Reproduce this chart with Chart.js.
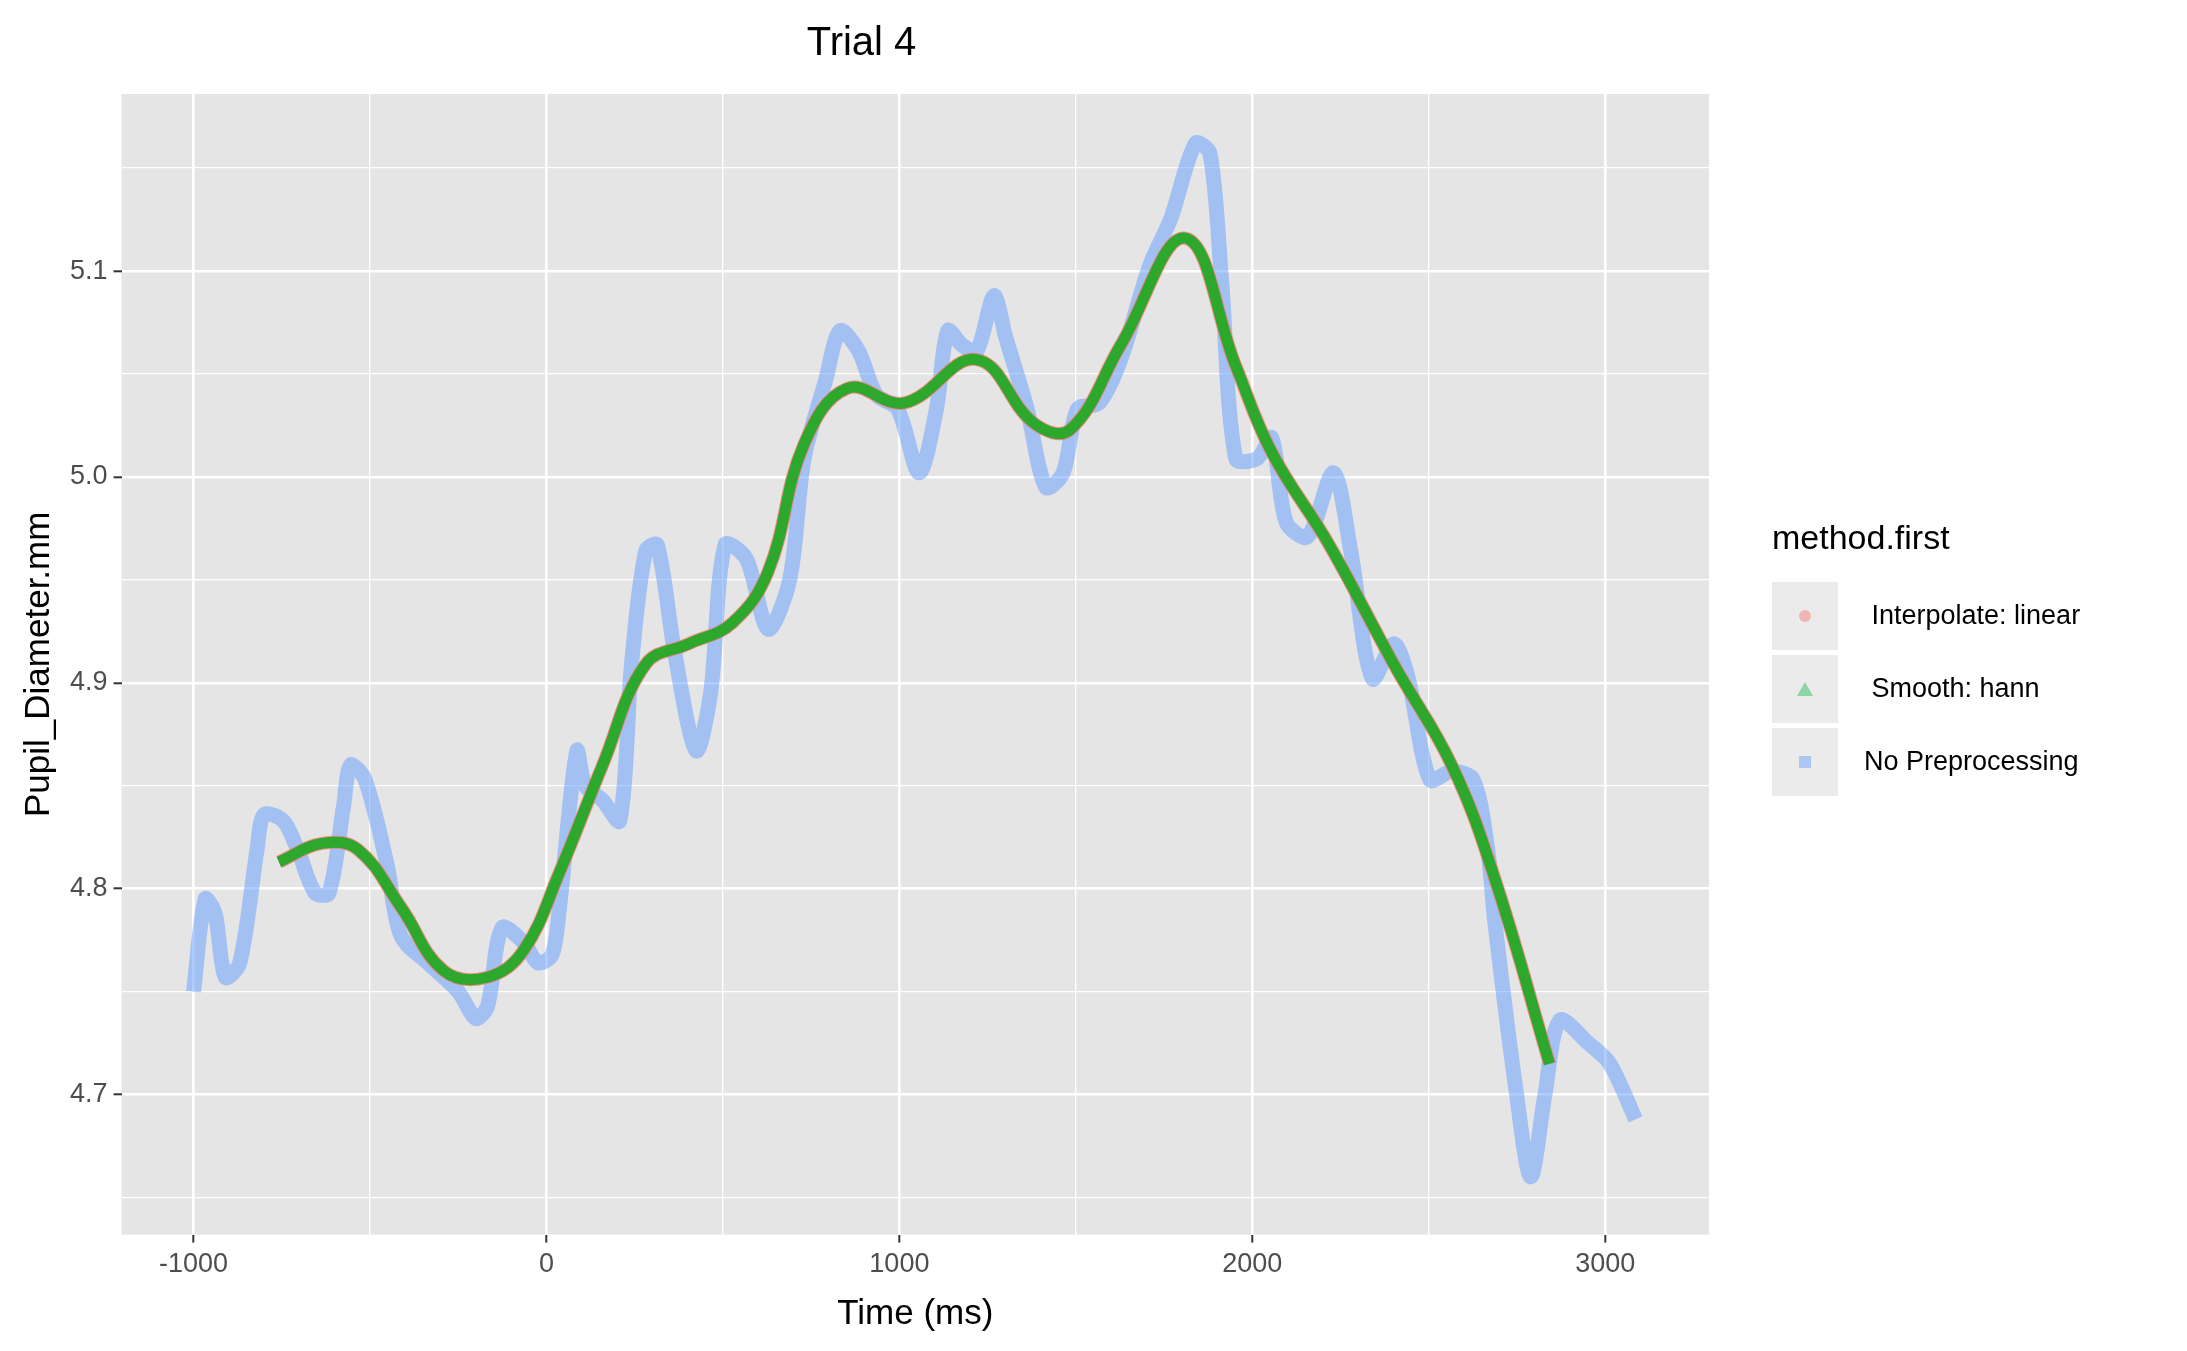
<!DOCTYPE html>
<html>
<head>
<meta charset="utf-8">
<script src="https://cdn.jsdelivr.net/npm/chart.js"></script>
<style>
  body { margin: 0; background: #fff; font-family: "Liberation Sans", Arial, sans-serif; }
  #wrap { position: relative; width: 2187px; height: 1351px; }
  #legend { position: absolute; left: 1772px; top: 518px; color: #000; }
  #legend .title { font-size: 34px; margin-bottom: 22px; }
  #legend .row { display: flex; align-items: center; height: 73px; }
  #legend .key { width: 66px; height: 68px; background: #EBEBEB; display: flex; align-items: center; justify-content: center; margin-right: 26px; }
  #legend .lab { font-size: 27px; }
</style>
</head>
<body>
<div id="wrap">
  <canvas id="c" width="2187" height="1351"></canvas>
  <div id="legend">
    <div class="title">method.first</div>
    <div class="row"><div class="key"><svg width="16" height="16"><circle cx="8" cy="8" r="6" fill="rgba(248,118,109,0.45)"/></svg></div><div class="lab">&nbsp;Interpolate: linear</div></div>
    <div class="row"><div class="key"><svg width="20" height="18"><polygon points="10,2 18,16 2,16" fill="rgba(0,186,56,0.4)"/></svg></div><div class="lab">&nbsp;Smooth: hann</div></div>
    <div class="row"><div class="key"><svg width="16" height="16"><rect x="2" y="2" width="12" height="12" fill="rgba(97,156,255,0.45)"/></svg></div><div class="lab">No Preprocessing</div></div>
  </div>
</div>
<script>
// raw pupil trace (No Preprocessing)
const rawTime = [-1000, -967, -939, -910, -869, -820, -800, -746, -705, -656, -616, -575, -555, -514, -452, -412, -330, -250, -200, -167, -126, -65, -24, 16, 37, 86, 110, 159, 208, 241, 281, 314, 363, 424, 465, 506, 567, 628, 689, 730, 791, 832, 885, 934, 995, 1056, 1105, 1137, 1178, 1219, 1268, 1301, 1362, 1415, 1464, 1505, 1566, 1627, 1708, 1770, 1839, 1880, 1913, 1953, 2014, 2055, 2096, 2157, 2230, 2279, 2340, 2401, 2442, 2503, 2565, 2626, 2667, 2687, 2748, 2789, 2830, 2871, 2952, 3013, 3086];
const rawValue = [4.750, 4.795, 4.788, 4.757, 4.764, 4.819, 4.836, 4.833, 4.819, 4.798, 4.798, 4.840, 4.860, 4.853, 4.812, 4.777, 4.763, 4.750, 4.737, 4.743, 4.781, 4.774, 4.764, 4.768, 4.791, 4.867, 4.850, 4.843, 4.833, 4.909, 4.964, 4.967, 4.915, 4.867, 4.895, 4.967, 4.960, 4.926, 4.950, 5.009, 5.047, 5.071, 5.061, 5.040, 5.033, 5.002, 5.033, 5.071, 5.064, 5.061, 5.088, 5.068, 5.033, 4.995, 5.002, 5.033, 5.036, 5.057, 5.102, 5.126, 5.162, 5.157, 5.095, 5.009, 5.009, 5.019, 4.978, 4.971, 5.002, 4.964, 4.902, 4.919, 4.902, 4.853, 4.857, 4.853, 4.819, 4.784, 4.701, 4.660, 4.701, 4.736, 4.725, 4.715, 4.688];
// smoothed trace (Smooth: hann)
const smoothTime = [-758, -636, -534, -412, -290, -167, -65, 37, 159, 281, 404, 526, 628, 730, 852, 1015, 1219, 1382, 1484, 1627, 1810, 1953, 2055, 2218, 2401, 2565, 2687, 2842];
const smoothValue = [4.813, 4.822, 4.819, 4.791, 4.760, 4.757, 4.770, 4.808, 4.860, 4.909, 4.919, 4.929, 4.954, 5.016, 5.043, 5.036, 5.057, 5.026, 5.023, 5.064, 5.116, 5.054, 5.012, 4.967, 4.909, 4.860, 4.805, 4.715];
// interpolated trace (Interpolate: linear), lies under the smoothed one
const interpTime = [-758, -636, -534, -412, -290, -167, -65, 37, 159, 281, 404, 526, 628, 730, 852, 1015, 1219, 1382, 1484, 1627, 1810, 1953, 2055, 2218, 2401, 2565, 2687, 2842];
const interpValue = [4.813, 4.822, 4.819, 4.791, 4.760, 4.757, 4.770, 4.808, 4.860, 4.909, 4.919, 4.929, 4.954, 5.016, 5.043, 5.036, 5.057, 5.026, 5.023, 5.064, 5.116, 5.054, 5.012, 4.967, 4.909, 4.860, 4.805, 4.715];

const xTicks = [-1000, -500, 0, 500, 1000, 1500, 2000, 2500, 3000];
const yTicks = [4.65, 4.7, 4.75, 4.8, 4.85, 4.9, 4.95, 5.0, 5.05, 5.1, 5.15];

const pts = (xs, ys) => xs.map((x, i) => ({ x, y: ys[i] }));
const isMajorX = v => Math.abs(v % 1000) < 1e-6;
const isMajorY = v => Math.abs(Math.round(v * 10) - v * 10) < 1e-6;

const panelBg = {
  id: 'panelBg',
  beforeDraw(chart) {
    const { ctx, chartArea: a } = chart;
    ctx.save();
    ctx.fillStyle = '#E5E5E5';
    ctx.fillRect(a.left, a.top, a.right - a.left, a.bottom - a.top);
    ctx.restore();
  }
};

new Chart(document.getElementById('c'), {
  type: 'line',
  data: {
    datasets: [
      { label: 'No Preprocessing', data: pts(rawTime, rawValue), borderColor: 'rgba(97,156,255,0.5)', borderWidth: 15, pointRadius: 0, tension: 0.3, order: 3 },
      { label: 'Interpolate: linear', data: pts(interpTime, interpValue), borderColor: 'rgba(248,118,109,0.8)', borderWidth: 13, pointRadius: 0, tension: 0.4, order: 2 },
      { label: 'Smooth: hann', data: pts(smoothTime, smoothValue), borderColor: 'rgba(34,170,40,0.95)', borderWidth: 11, pointRadius: 0, tension: 0.4, order: 1 }
    ]
  },
  options: {
    responsive: false,
    animation: false,
    layout: { padding: { right: 478, top: 0, left: 14, bottom: 12 } },
    plugins: {
      legend: { display: false },
      tooltip: { enabled: false },
      title: { display: true, text: 'Trial 4', color: '#000', font: { size: 40, weight: 'normal', family: 'Liberation Sans' }, padding: { top: 20, bottom: 26 } }
    },
    scales: {
      x: {
        type: 'linear', min: -1204, max: 3294,
        afterBuildTicks: s => { s.ticks = xTicks.map(v => ({ value: v })); },
        ticks: { color: '#4D4D4D', font: { size: 27, family: 'Liberation Sans' }, maxRotation: 0, padding: 6, callback: v => isMajorX(v) ? v : '' },
        grid: {
          color: '#FFFFFF', lineWidth: c => isMajorX(c.tick.value) ? 2.6 : 1.3,
          tickColor: c => isMajorX(c.tick.value) ? '#333333' : 'rgba(0,0,0,0)', tickLength: 8, tickWidth: 2
        },
        border: { display: false },
        title: { display: true, text: 'Time (ms)', color: '#000', font: { size: 35, family: 'Liberation Sans' }, padding: { top: 6 } }
      },
      y: {
        type: 'linear', min: 4.632, max: 5.186,
        afterBuildTicks: s => { s.ticks = yTicks.map(v => ({ value: v })); },
        ticks: { color: '#4D4D4D', font: { size: 27, family: 'Liberation Sans' }, padding: 6, callback: v => isMajorY(v) ? v.toFixed(1) : '' },
        grid: {
          color: '#FFFFFF', lineWidth: c => isMajorY(c.tick.value) ? 2.6 : 1.3,
          tickColor: c => isMajorY(c.tick.value) ? '#333333' : 'rgba(0,0,0,0)', tickLength: 8, tickWidth: 2
        },
        border: { display: false },
        title: { display: true, text: 'Pupil_Diameter.mm', color: '#000', font: { size: 35, family: 'Liberation Sans' } }
      }
    }
  },
  plugins: [panelBg]
});
</script>
</body>
</html>
